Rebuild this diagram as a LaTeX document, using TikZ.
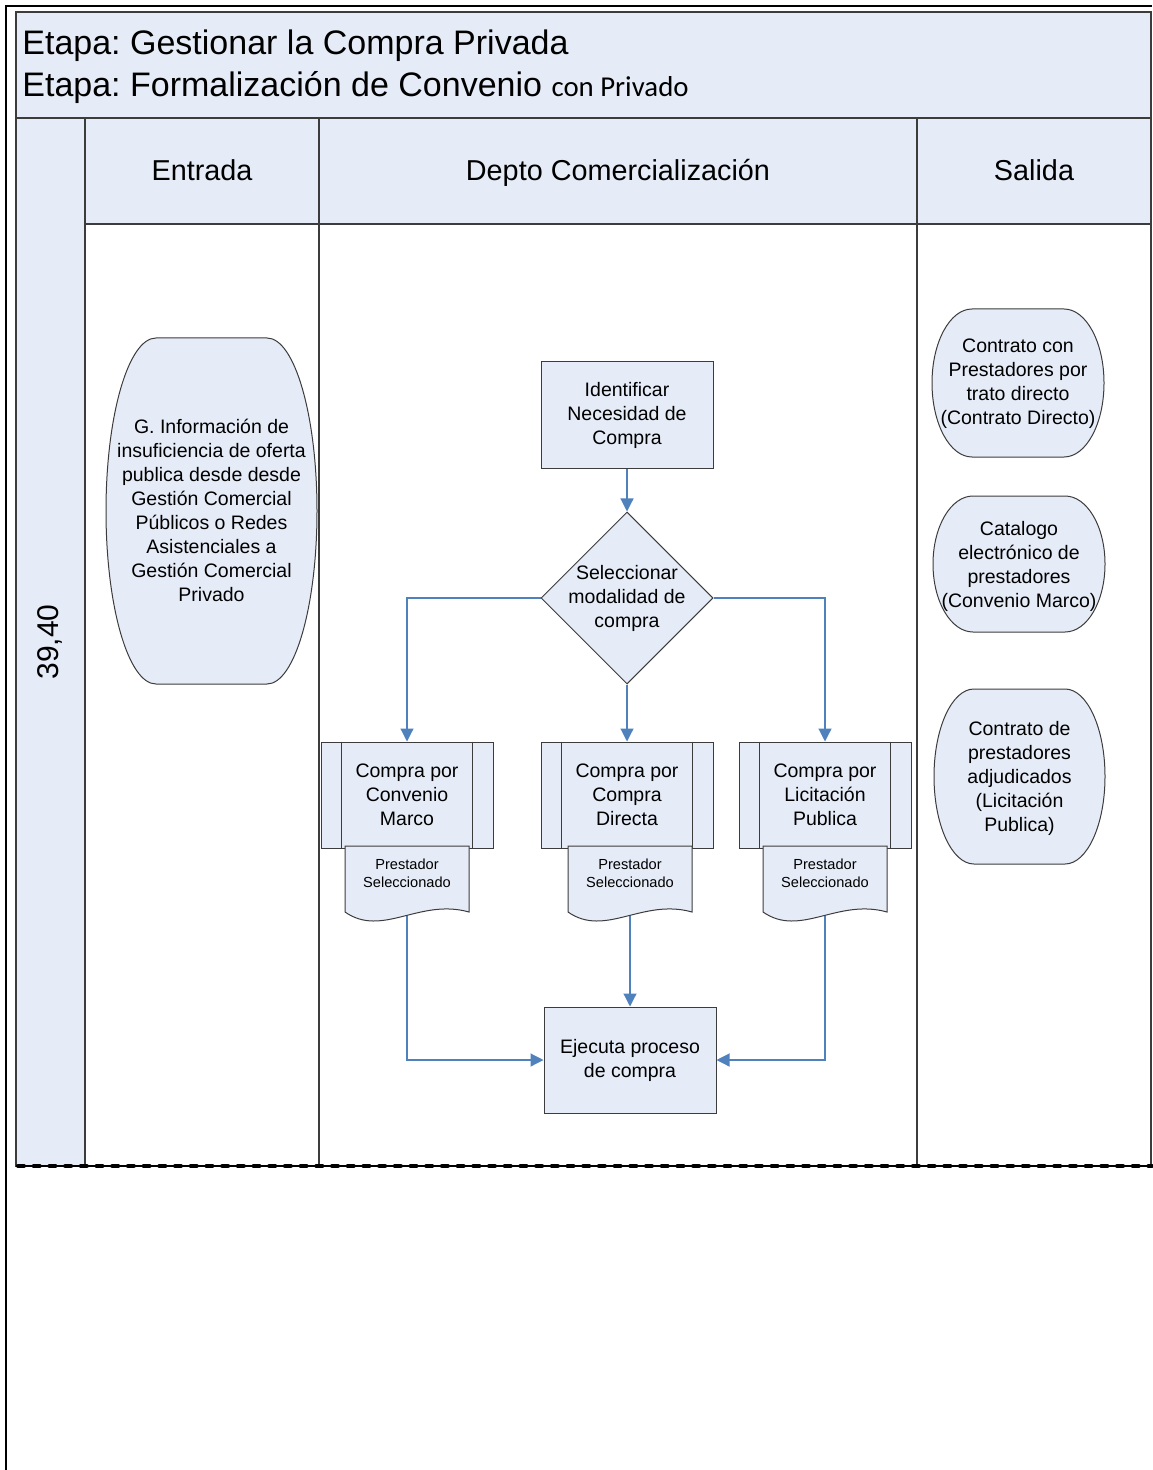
\documentclass[tikz,border=0pt]{standalone}
\usepackage{fontspec}
\setmainfont{Liberation Sans}
\newfontfamily\calibrifont{Carlito}
\usetikzlibrary{shapes.geometric,arrows.meta,calc}
\pgfdeclarelayer{pool}
\pgfdeclarelayer{links}
\pgfsetlayers{pool,links,main}
\frenchspacing

\definecolor{lane}{RGB}{230,236,247}
\definecolor{edge}{RGB}{60,60,60}
\definecolor{flow}{RGB}{79,129,189}

\newcommand\txtbody{\fontsize{9.75}{12}\selectfont}
\newcommand\txtsmall{\fontsize{7.3}{9}\selectfont}
\newcommand\txthead{\fontsize{14.4}{17}\selectfont}

% rounded "blob": centre (#1,#2), width #3, height #4, corner x-radius #5
\newcommand\blobpath[5]{%
  \draw[shapeline]
    ({#1-#3/2+#5},{#2-#4/2}) -- ({#1+#3/2-#5},{#2-#4/2})
    .. controls ({#1+#3/2-#5+0.5523*#5},{#2-#4/2}) and ({#1+#3/2},{#2-0.5523*#4/2}) .. ({#1+#3/2},#2)
    .. controls ({#1+#3/2},{#2+0.5523*#4/2}) and ({#1+#3/2-#5+0.5523*#5},{#2+#4/2}) .. ({#1+#3/2-#5},{#2+#4/2})
    -- ({#1-#3/2+#5},{#2+#4/2})
    .. controls ({#1-#3/2+#5-0.5523*#5},{#2+#4/2}) and ({#1-#3/2},{#2+0.5523*#4/2}) .. ({#1-#3/2},#2)
    .. controls ({#1-#3/2},{#2-0.5523*#4/2}) and ({#1-#3/2+#5-0.5523*#5},{#2-#4/2}) .. cycle;}

% document shape: centre x #1, top #2, wave baseline #3 (width 124)
\newcommand\docpath[3]{%
  \draw[shapeline]
    ({#1-62},#2) -- ({#1+62},#2) -- ({#1+62},#3)
    .. controls ({#1+62-0.4*124},{#3-14}) and ({#1-62+0.3*124},{#3+26}) .. ({#1-62},#3)
    -- cycle;}

\begin{document}
\begin{tikzpicture}[x=0.5pt,y=-0.5pt,
  shapeline/.style={draw=edge,fill=lane,line width=0.5pt},
  procbox/.style={shapeline,rectangle,minimum width=86pt,minimum height=53pt,
    inner sep=0pt,align=center,font=\txtbody},
  txt/.style={align=center,font=\txtbody,inner sep=0pt},
  smalltxt/.style={align=center,font=\txtsmall,inner sep=0pt},
  headtxt/.style={font=\txthead,inner sep=0pt,anchor=base},
  poolline/.style={draw=edge,line width=0.75pt},
  flowline/.style={draw=flow,line width=0.6pt,-{Triangle[length=6.5pt,width=6.5pt]}}
]
\useasboundingbox (0,0) rectangle (1152,1470);

% ---------- pool and lanes ----------
\begin{pgfonlayer}{pool}
  \fill[white] (0,0) rectangle (1152,1470);
  \draw[black,line width=1.3pt] (6,1470) -- (6,6) -- (1152,6);
  \fill[lane] (16,12) rectangle (1151,224);
  \fill[lane] (16,224) rectangle (85,1166);
  \draw[poolline] (16,12) rectangle (1151,1166);
  \draw[poolline] (16,118) -- (1151,118);
  \draw[poolline] (85,224) -- (1151,224);
  \draw[poolline] (85,118) -- (85,1166);
  \draw[poolline] (319,118) -- (319,1166);
  \draw[poolline] (917,118) -- (917,1166);
  % phase separator
  \draw[black,line width=0.6pt] (16,1166) -- (1152,1166);
  \draw[black,line width=2pt,line cap=round,dash pattern=on 3pt off 4.85pt,dash phase=-1pt]
    (16,1166) -- (1152,1166);
\end{pgfonlayer}

% ---------- titles ----------
\node[anchor=base west,inner sep=0pt,font=\fontsize{17}{20}\selectfont] (title1) at (22,55)
  {Etapa: Gestionar la Compra Privada};
\node[anchor=base west,inner sep=0pt,font=\fontsize{17}{20}\selectfont] (title2) at (22,97)
  {Etapa: Formalización de Convenio {\calibrifont\fontsize{14.4}{17}\selectfont con Privado}};

\node[headtxt] (hin)  at (202,181) {Entrada};
\node[headtxt] (hdep) at (618,181) {Depto Comercialización};
\node[headtxt] (hout) at (1034,181) {Salida};
\node[rotate=90,font=\fontsize{15}{18}\selectfont,inner sep=0pt] (lanelbl) at (50,642) {39,40};

% ---------- input ----------
\blobpath{211.5}{511}{211}{346}{50}
\node[txt] (inp) at (211.5,510)
  {G. Información de\\insuficiencia de oferta\\publica desde desde\\Gestión Comercial\\Públicos o Redes\\Asistenciales a\\Gestión Comercial\\Privado};

% ---------- process ----------
\node[procbox] (ident) at (627,415) {Identificar\\Necesidad de\\Compra};

\node[shapeline,diamond,aspect=1,minimum width=86pt,minimum height=86pt,inner sep=0pt,
  label={[txt]center:Seleccionar\\modalidad de\\compra}] (sel) at (627,598) {};

\node[procbox] (cm) at (407,795) {Compra por\\Convenio\\Marco};
\node[procbox] (cd) at (627,795) {Compra por\\Compra\\Directa};
\node[procbox] (lp) at (825,795) {Compra por\\Licitación\\Publica};
\foreach \b in {cm,cd,lp}{
  \draw[edge,line width=0.5pt] ([xshift=10.5pt]\b.north west) -- ([xshift=10.5pt]\b.south west);
  \draw[edge,line width=0.5pt] ([xshift=-10.5pt]\b.north east) -- ([xshift=-10.5pt]\b.south east);
}

\docpath{407}{846}{912}
\node[smalltxt] (pcm) at (407,873) {Prestador\\Seleccionado};
\docpath{630}{846}{912}
\node[smalltxt] (pcd) at (630,873) {Prestador\\Seleccionado};
\docpath{825}{846}{912}
\node[smalltxt] (plp) at (825,873) {Prestador\\Seleccionado};

\node[procbox] (exec) at (630,1060) {Ejecuta proceso\\de compra};

% ---------- outputs ----------
\blobpath{1018}{383}{172}{148}{40}
\node[txt] (out1) at (1018,384) {Contrato con\\Prestadores por\\trato directo\\(Contrato Directo)};
\blobpath{1019}{564}{172}{136}{40}
\node[txt] (out2) at (1019,566) {Catalogo\\electrónico de\\prestadores\\(Convenio Marco)};
\blobpath{1019.5}{776.5}{171}{175}{40}
\node[txt] (out3) at (1019.5,778) {Contrato de\\prestadores\\adjudicados\\(Licitación\\Publica)};

% ---------- connectors ----------
\begin{pgfonlayer}{links}
  \draw[flowline] (ident) -- (sel);
  \draw[flowline] (sel.west) -| (cm.north);
  \draw[flowline] (sel.south) -- (cd.north);
  \draw[flowline] (sel.east) -| (lp.north);
  \draw[flowline] (pcm) |- (exec.west);
  \draw[flowline] (pcd) -- (exec.north);
  \draw[flowline] (plp) |- (exec.east);
\end{pgfonlayer}
\end{tikzpicture}
\end{document}
